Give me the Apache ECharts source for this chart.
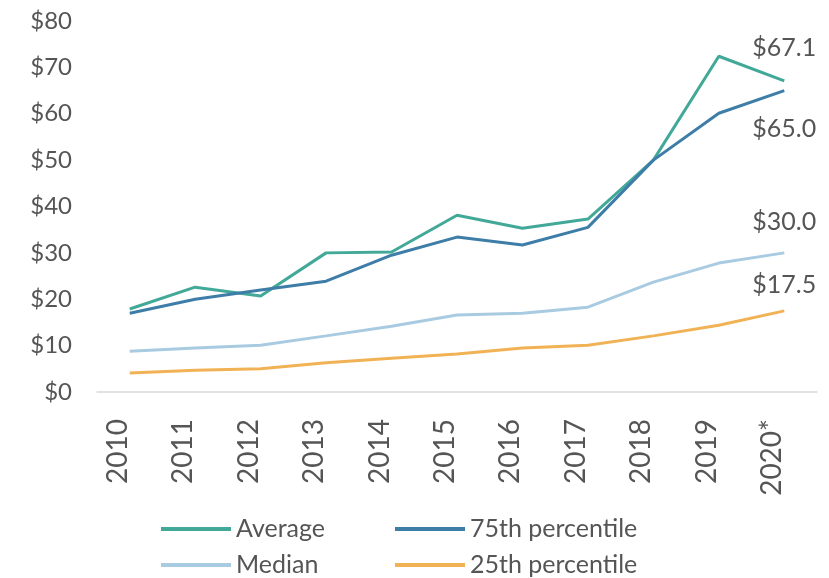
<!DOCTYPE html>
<html>
<head>
<meta charset="utf-8">
<script src="https://cdn.jsdelivr.net/npm/echarts@6/dist/echarts.min.js"></script>
<style>
  html, body { margin: 0; padding: 0; background: #fff; }
  #chartContainer { width: 829px; height: 578px; }
</style>
</head>
<body>
<div id="chartContainer"></div>
<script>
// values
const years = ["2010", "2011", "2012", "2013", "2014", "2015", "2016", "2017", "2018", "2019", "2020*"];
const average = [17.9, 22.6, 20.7, 30.0, 30.2, 38.1, 35.3, 37.3, 50.0, 72.4, 67.1];
const pct75 = [17.0, 20.0, 22.0, 23.9, 29.5, 33.4, 31.7, 35.5, 50.0, 60.1, 65.0];
const median = [8.8, 9.5, 10.1, 12.1, 14.2, 16.6, 17.0, 18.3, 23.7, 27.8, 30.0];
const pct25 = [4.1, 4.7, 5.0, 6.3, 7.3, 8.2, 9.5, 10.1, 12.1, 14.4, 17.5];

const FONT = "Lato";
const TEXT_COLOR = "#555";

// put a "$xx.x" label on the last point only
function withEndLabel(values, position, distance) {
  return values.map((v, i) => {
    if (i !== values.length - 1) return v;
    return {
      value: v,
      label: {
        show: true,
        position: position,
        distance: distance,
        formatter: (p) => "$" + p.value.toFixed(1),
        color: TEXT_COLOR,
        fontFamily: FONT,
        fontSize: 25,
      },
    };
  });
}

function lineSeries(name, values, color, position, distance) {
  return {
    name: name,
    type: "line",
    symbol: "circle",
    symbolSize: 0,
    showSymbol: true,
    data: withEndLabel(values, position, distance),
    lineStyle: { color: color, width: 3 },
    itemStyle: { color: color },
    z: 2,
  };
}

const chart = echarts.init(document.getElementById("chartContainer"));

const legendBase = {
  orient: "vertical",
  top: 510,
  height: 68,
  itemWidth: 70,
  itemHeight: 4,
  itemGap: 8,
  icon: "rect",
  textStyle: { color: TEXT_COLOR, fontFamily: FONT, fontSize: 25, lineHeight: 28 },
};

const option = {
  animation: false,
  legend: [
    Object.assign({}, legendBase, { left: 156, data: ["Average", "Median"] }),
    Object.assign({}, legendBase, { left: 390, data: ["75th percentile", "25th percentile"] }),
  ],
  grid: {
    left: 97,
    right: 12,
    top: 21,
    bottom: 186,
    containLabel: false,
  },
  xAxis: {
    type: "category",
    data: years,
    boundaryGap: true,
    offset: 6,
    axisLine: { lineStyle: { color: "#d9d9d9", width: 1.5 } },
    axisTick: { show: false },
    axisLabel: {
      rotate: 90,
      margin: 21,
      color: TEXT_COLOR,
      fontFamily: FONT,
      formatter: (v) => "{a|" + v + "}",
      rich: {
        a: {
          color: TEXT_COLOR,
          fontFamily: FONT,
          fontSize: 28,
          padding: [0, 0, 24, 0],
        },
      },
    },
  },
  yAxis: {
    type: "value",
    min: 0,
    max: 80,
    interval: 10,
    axisLine: { show: false },
    axisTick: { show: false },
    splitLine: { show: false },
    axisLabel: {
      margin: 25,
      color: TEXT_COLOR,
      fontFamily: FONT,
      fontSize: 24,
      formatter: (v) => "$" + v,
    },
  },
  series: [
    lineSeries("Average", average, "#42a898", "top", 20),
    lineSeries("75th percentile", pct75, "#3d7da8", "bottom", 26),
    lineSeries("Median", median, "#a9cbe1", "top", 18),
    lineSeries("25th percentile", pct25, "#f1b255", "top", 13),
  ],
};

chart.setOption(option);
</script>
</body>
</html>
